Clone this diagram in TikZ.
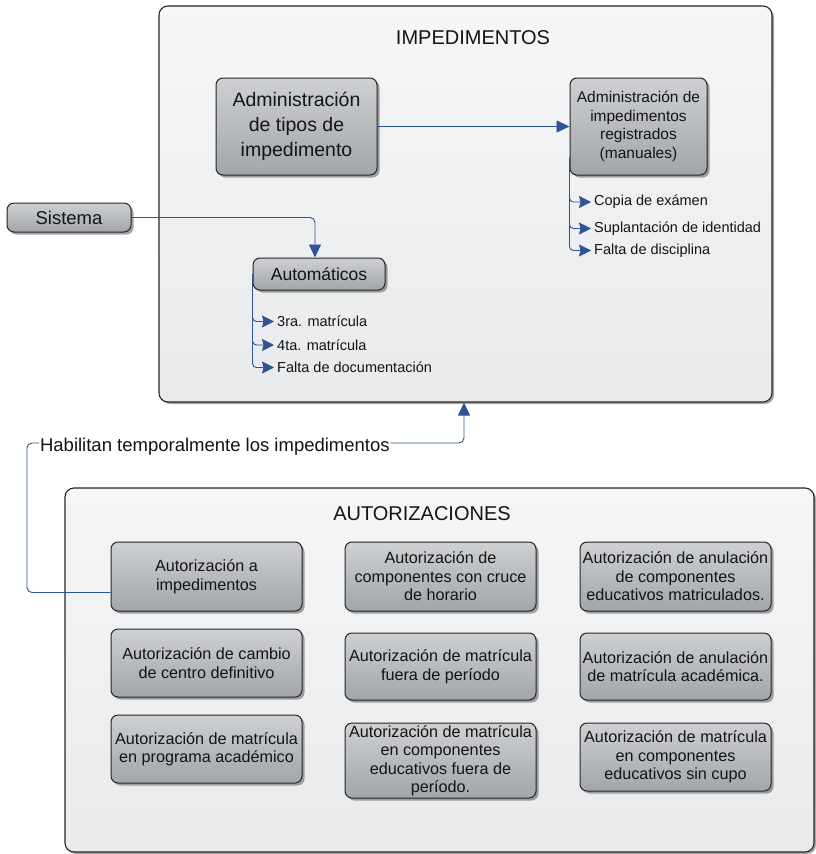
\documentclass[tikz,border=0pt]{standalone}
\usepackage{fontspec}
\setmainfont{Liberation Sans}
\usetikzlibrary{shadows,arrows.meta}
\definecolor{cblue}{RGB}{46,84,150}
\definecolor{boxtop}{RGB}{206,208,210}
\definecolor{boxbot}{RGB}{162,165,169}
\definecolor{pantop}{RGB}{245,246,247}
\definecolor{panbot}{RGB}{232,234,235}
\definecolor{edge}{RGB}{38,38,38}
\begin{document}
\begin{tikzpicture}[x=1pt,y=-1pt,
  panel/.style={draw=edge,line width=1.1pt,rounded corners=9pt,top color=pantop,bottom color=panbot,
    drop shadow={shadow xshift=2pt,shadow yshift=-2pt,fill=black!60,opacity=.6},inner sep=0pt},
  gbox/.style={draw=edge,line width=1pt,rounded corners=7pt,top color=boxtop,bottom color=boxbot,
    drop shadow={shadow xshift=2.5pt,shadow yshift=-2.5pt,fill=black!60,opacity=.6},
    align=center,inner sep=1pt,text=black!92},
  gridbox/.style={gbox,minimum width=191pt,font=\fontsize{16.2}{18.5}\selectfont},
  conn/.style={draw=cblue,line width=0.9pt},
  bigtip/.style={-{Triangle[length=13pt,width=12pt]}},
  smalltip/.style={-{Stealth[length=12pt,width=12pt,inset=1.5pt]}},
  item/.style={anchor=west,inner ysep=0pt,inner xsep=3pt,text=black!92,font=\fontsize{14.5}{17}\selectfont},
  paneltitle/.style={font=\fontsize{20}{24}\selectfont,text=black!92}
]
\useasboundingbox (0,0) rectangle (816,854);

% panels
\node[panel,minimum width=613pt,minimum height=396pt] (imp) at (465.5,204) {};
\node[panel,minimum width=749pt,minimum height=364pt] (aut) at (439.5,670) {};
\node[paneltitle] (impt) at (473,38) {IMPEDIMENTOS};
\node[paneltitle] (autt) at (422,514) {AUTORIZACIONES};

% impedimentos boxes
\node[gbox,minimum width=161pt,minimum height=97pt,font=\fontsize{19.5}{25}\selectfont] (adm) at (296.5,126.5)
  {Administración\\de tipos de\\impedimento};
\node[gbox,minimum width=137pt,minimum height=97pt,font=\fontsize{15.5}{18.5}\selectfont] (man) at (638.5,126.5)
  {Administración de\\impedimentos\\registrados\\(manuales)};
\node[gbox,minimum width=124pt,minimum height=29pt,font=\fontsize{18.5}{22}\selectfont] (sys) at (69,217.5) {Sistema};
\node[gbox,minimum width=132pt,minimum height=32pt,font=\fontsize{17.5}{21}\selectfont] (auto) at (319,274) {Automáticos};

% items
\node[item] (m1) at (591,202) {Copia de exámen};
\node[item] (m2) at (591,228.5) {Suplantación de identidad};
\node[item] (m3) at (591,250.5) {Falta de disciplina};
\node[item] (a1i) at (274,321.5) {3ra. matrícula};
\node[item] (a2i) at (274,345) {4ta. matrícula};
\node[item] (a3i) at (274,367.5) {Falta de documentación};

% connectors in impedimentos
\draw[conn,bigtip] (adm.east) -- (man.west);
\draw[conn,bigtip,rounded corners=5pt] (sys.east) -| ([xshift=-4pt]auto.north);
\foreach \t in {m1,m2,m3}
  \draw[conn,smalltip,rounded corners=4pt] ([yshift=18pt]man.south west) |- (\t.west);
\foreach \t in {a1i,a2i,a3i}
  \draw[conn,smalltip,rounded corners=4pt] (auto.west) |- (\t.west);

% autorizaciones grid
\node[gridbox,minimum height=69pt] (g11) at (206.5,576.5) {Autorización a\\impedimentos};
\node[gridbox,minimum height=69pt] (g12) at (440.5,576.5) {Autorización de\\componentes con cruce\\de horario};
\node[gridbox,minimum height=69pt] (g13) at (675.5,576.5) {Autorización de anulación\\de componentes\\educativos matriculados.};
\node[gridbox,minimum height=68pt] (g21) at (206.5,663) {Autorización de cambio\\de centro definitivo};
\node[gridbox,minimum height=67pt] (g22) at (440.5,666.5) {Autorización de matrícula\\fuera de período};
\node[gridbox,minimum height=67pt] (g23) at (675.5,666.5) {Autorización de anulación\\de matrícula académica.};
\node[gridbox,minimum height=68pt] (g31) at (206.5,749) {Autorización de matrícula\\en programa académico};
\node[gridbox,minimum height=75pt,inner ysep=0pt] (g32) at (440.5,760.5) {Autorización de matrícula\\en componentes\\educativos fuera de\\período.};
\node[gridbox,minimum height=68pt] (g33) at (675.5,757) {Autorización de matrícula\\en componentes\\educativos sin cupo};

% habilitan connector
\coordinate (hc) at (27,443);
\coordinate (hr) at (464,443);
\draw[conn,bigtip,rounded corners=5pt] ([yshift=-16pt]g11.west) -| (hc) --
  node[pos=.43,yshift=-4pt,fill=white,inner xsep=1pt,inner ysep=2pt,text=black!92,font=\fontsize{18.5}{22}\selectfont] (hab)
  {Habilitan temporalmente los impedimentos} (hr) -- (hr |- imp.south);
\end{tikzpicture}
\end{document}
